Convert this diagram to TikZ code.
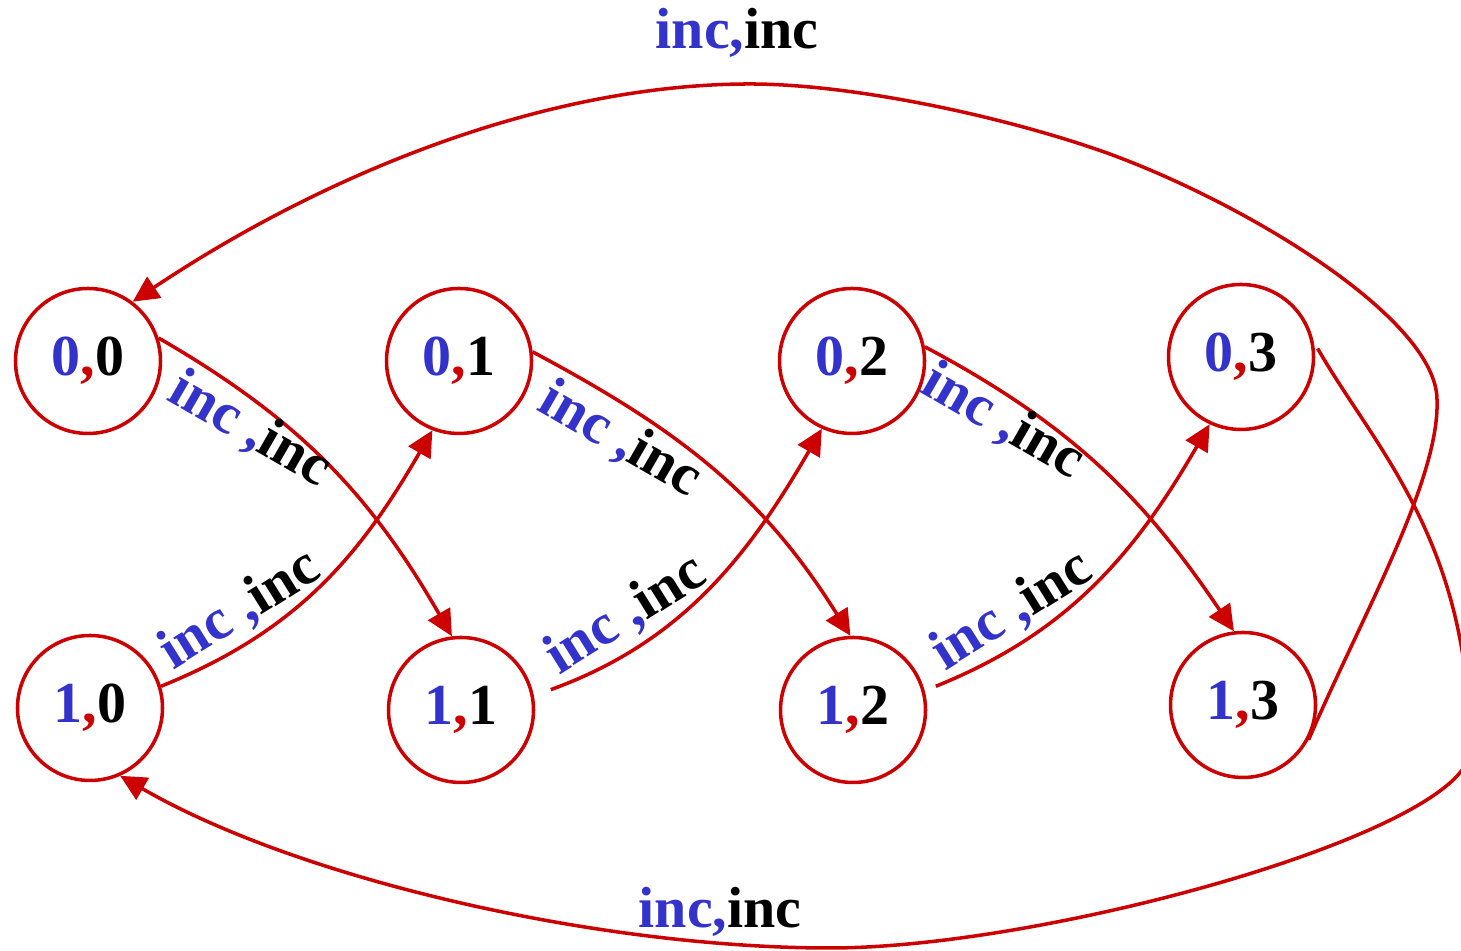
\documentclass[tikz,border=0pt]{standalone}
\usepackage{fontspec}
\setmainfont{Liberation Serif}
\usetikzlibrary{arrows.meta}
\definecolor{stblue}{RGB}{51,51,204}
\definecolor{stred}{RGB}{204,0,0}
\newcommand{\stlabel}[2]{\textcolor{stblue}{#1}\textcolor{stred}{,}#2}
\newcommand{\inclabel}{\textcolor{stblue}{inc ,}inc}
\tikzset{
	stnode/.style={circle,draw=stred,line width=1pt,minimum size=1.45cm,inner sep=0pt,font=\fontsize{16.5}{19}\selectfont\bfseries},
	edge/.style={draw=stred,line width=1pt,-{Triangle[length=0.26cm,width=0.25cm]}},
	lbl/.style={font=\fontsize{16.5}{19}\selectfont\bfseries,inner sep=0pt}
}
\begin{document}
\begin{tikzpicture}
				\useasboundingbox (0,0) rectangle (14.61,9.51);
				\clip (0,0) rectangle (14.61,9.51);
				% states
				\node[stnode] (n00) at (0.88,5.90) {\stlabel{0}{0}};
				\node[stnode] (n01) at (4.59,5.90) {\stlabel{0}{1}};
				\node[stnode] (n02) at (8.52,5.90) {\stlabel{0}{2}};
				\node[stnode] (n03) at (12.41,5.94) {\stlabel{0}{3}};
				\node[stnode] (n10) at (0.90,2.43) {\stlabel{1}{0}};
				\node[stnode] (n11) at (4.61,2.41) {\stlabel{1}{1}};
				\node[stnode] (n12) at (8.53,2.41) {\stlabel{1}{2}};
				\node[stnode] (n13) at (12.43,2.46) {\stlabel{1}{3}};
				% transitions
				\draw[edge] (n00.18) to[out=-30,in=120] (n11.97);
				\draw[edge] (n01.7) to[out=-28,in=122] (n12.92);
				\draw[edge] (n02.11) to[out=-28,in=124] (n13.97);
				\draw[edge] (n10.17) to[out=22,in=-120] (n01.-111);
				\draw[edge,shorten <=0.18cm] (n11.11) to[out=20,in=-120] (n02.-114);
				\draw[edge,shorten <=0.12cm] (n12.15) to[out=22,in=-120] (n03.-115);
				\draw[edge] (n13.-28) .. controls (13.60,3.31) and (14.40,4.71) .. (14.37,5.51)
					.. controls (14.37,6.31) and (12.50,7.46) .. (11.07,7.98)
					.. controls (10.00,8.36) and (8.50,8.67) .. (7.50,8.67)
					.. controls (5.50,8.67) and (3.30,7.81) .. (n00.53);
				\draw[edge,shorten <=0.08cm] (n03.12) .. controls (13.74,5.04) and (14.70,4.11) .. (14.70,2.01)
					.. controls (14.70,1.21) and (10.50,0.03) .. (8.30,0.03)
					.. controls (6.00,0.03) and (3.00,0.71) .. (n10.-66);
				% labels
				\node[lbl,rotate=-30] (l1) at (2.50,5.21) {\inclabel};
				\node[lbl,rotate=-30] (l2) at (6.20,5.11) {\inclabel};
				\node[lbl,rotate=-30] (l3) at (10.03,5.29) {\inclabel};
				\node[lbl,rotate=32] (l4) at (2.40,3.41) {\inclabel};
				\node[lbl,rotate=32] (l5) at (6.26,3.36) {\inclabel};
				\node[lbl,rotate=32] (l6) at (10.12,3.40) {\inclabel};
				\node[lbl] (ltop) at (7.37,9.18) {\textcolor{stblue}{inc,}inc};
				\node[lbl] (lbot) at (7.20,0.39) {\textcolor{stblue}{inc,}inc};
\end{tikzpicture}
\end{document}
